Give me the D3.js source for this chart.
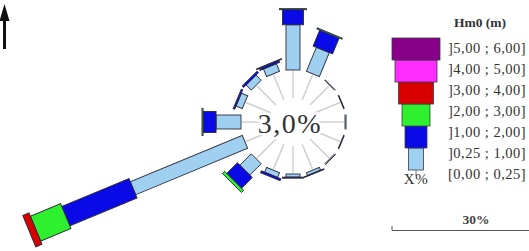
<!DOCTYPE html>
<html>
<head>
<meta charset="utf-8">
<script src="https://cdn.jsdelivr.net/npm/d3@7"></script>
<style>
  html, body { margin: 0; padding: 0; background: #fff; overflow: hidden; }
  text { font-family: "Liberation Serif", "DejaVu Serif", serif; }
</style>
</head>
<body>
<svg id="rose" width="529" height="251"></svg>
<script>
// directions, clockwise from north (16 sectors)
var directions = ['N','NNE','NE','ENE','E','ESE','SE','SSE','S','SSW','SW','WSW','W','WNW','NW','NNW'];

// frequency (%) of each Hm0 class per direction
var c025_1 = [8.7, 5.0, 0.1, 0.1, 0.2, 0.1, 0.2, 0.6, 0.6, 1.0, 3.1, 23.3, 4.8, 1.3, 1.4, 1.6];
var c1_2   = [2.9, 3.3, 0,   0,   0,   0,   0,   0.1, 0.2, 0.4, 2.9, 14.0, 2.5, 0.3, 0.4, 0.4];
var c2_3   = [0.2, 0.2, 0,   0,   0,   0,   0,   0,   0,   0,   0.6, 6.3,  0.2, 0,   0,   0.1];
var c3_4   = [0,   0,   0,   0,   0,   0,   0,   0,   0,   0,   0,   1.3,  0,   0,   0,   0];
var c4_5   = [0,   0,   0,   0,   0,   0,   0,   0,   0,   0,   0,   0,    0,   0,   0,   0];
var c5_6   = [0,   0,   0,   0,   0,   0,   0,   0,   0,   0,   0,   0,    0,   0,   0,   0];

var calm = 3.0;   // [0,00 ; 0,25]
var classLabels = [']0,25 ; 1,00]', ']1,00 ; 2,00]', ']2,00 ; 3,00]', ']3,00 ; 4,00]', ']4,00 ; 5,00]', ']5,00 ; 6,00]'];
var calmLabel = '[0,00 ; 0,25]';
var classColors = ['#9fd0f2', '#0a0ae6', '#2ef02e', '#d80000', '#ff2cff', '#880088'];
var scaleValue = 30;

var keys = ['c0','c1','c2','c3','c4','c5'];
var series = [c025_1, c1_2, c2_3, c3_4, c4_5, c5_6];
var rows = directions.map(function(d, i) {
    var row = {dir: d};
    keys.forEach(function(k, j) { row[k] = series[j][i]; });
    return row;
});

var svg = d3.select('#rose');

var cx = 293, cy = 122, r0 = 52;
var pxPer30 = 156;

var r = d3.scaleLinear().domain([0, scaleValue]).range([r0, r0 + pxPer30]);
var angle = d3.scaleLinear().domain([0, directions.length]).range([0, 360]);
var widths = d3.scaleOrdinal().domain(keys).range([14, 21, 27, 34, 41, 47]);
var color = d3.scaleOrdinal().domain(keys).range(classColors);

var stacked = d3.stack().keys(keys)(rows);

var rose = svg.append('g').attr('transform', 'translate(' + cx + ',' + cy + ')');

// light spokes
rose.selectAll('.spoke')
    .data(directions)
    .enter().append('line')
    .attr('class', 'spoke')
    .attr('transform', function(d, i) { return 'rotate(' + angle(i) + ')'; })
    .attr('y1', -24)
    .attr('y2', -r0 + 1)
    .attr('stroke', '#cfcfcf')
    .attr('stroke-width', 1.5);

// bars
stacked.forEach(function(layer) {
    var k = layer.key;
    rose.selectAll('.bar-' + k)
        .data(layer.filter(function(d, i) { return k === 'c0' || d[1] - d[0] > 0; }))
        .enter().append('rect')
        .attr('class', 'bar-' + k)
        .attr('transform', function(d) { return 'rotate(' + angle(directions.indexOf(d.data.dir)) + ')'; })
        .attr('x', -widths(k) / 2)
        .attr('width', widths(k))
        .attr('y', function(d) { return -r(d[1]); })
        .attr('height', function(d) { return Math.max(0.6, r(d[1]) - r(d[0])); })
        .attr('fill', color(k))
        .attr('stroke', '#2a2a3a')
        .attr('stroke-width', 0.9);
});

// calm text
rose.append('text')
    .attr('x', -3)
    .attr('y', 1)
    .attr('text-anchor', 'middle')
    .attr('dominant-baseline', 'central')
    .attr('font-size', 28)
    .attr('letter-spacing', 1.5)
    .attr('fill', '#333')
    .attr('stroke', '#fff')
    .attr('stroke-width', 5)
    .attr('paint-order', 'stroke')
    .text(d3.format('.1f')(calm).replace('.', ',') + '%');

// north arrow
var arrow = svg.append('g');
arrow.append('rect').attr('x', 3).attr('y', 18).attr('width', 3).attr('height', 31).attr('fill', '#111');
arrow.append('path').attr('d', 'M4.5,4 L9.5,21 L-0.5,21 Z').attr('fill', '#111');

// legend
var legend = svg.append('g');
var legendX = 416;
var rowY = d3.scaleBand().domain(keys.slice().reverse()).range([38, 170]);
var labelY = d3.scalePoint().domain(keys.slice().reverse().concat(['calm'])).range([48, 174]);

legend.append('text')
    .attr('x', 480).attr('y', 27)
    .attr('text-anchor', 'middle')
    .attr('font-size', 13.5)
    .attr('font-weight', 'bold')
    .attr('fill', '#333')
    .text('Hm0 (m)');

legend.selectAll('.lbox')
    .data(keys)
    .enter().append('rect')
    .attr('class', 'lbox')
    .attr('x', function(k) { return legendX - widths(k) / 2 - 0.5; })
    .attr('width', function(k) { return widths(k) + 1; })
    .attr('y', function(k) { return rowY(k); })
    .attr('height', rowY.bandwidth())
    .attr('fill', function(k) { return color(k); })
    .attr('stroke', '#3a3a4a')
    .attr('stroke-width', 0.8);

legend.selectAll('.llabel')
    .data(keys)
    .enter().append('text')
    .attr('class', 'llabel')
    .attr('x', 448)
    .attr('y', function(k) { return labelY(k); })
    .attr('dominant-baseline', 'central')
    .attr('font-size', 14.5)
    .attr('letter-spacing', 0.5)
    .attr('fill', '#333')
    .text(function(k, i) { return classLabels[i]; });

legend.append('line')
    .attr('x1', legendX).attr('x2', legendX)
    .attr('y1', 170).attr('y2', 176)
    .attr('stroke', '#777').attr('stroke-width', 1);

legend.append('text')
    .attr('x', legendX).attr('y', 179)
    .attr('text-anchor', 'middle')
    .attr('dominant-baseline', 'central')
    .attr('font-size', 15)
    .attr('letter-spacing', 0.5)
    .attr('fill', '#333')
    .text('X%');

legend.append('text')
    .attr('x', 448).attr('y', labelY('calm'))
    .attr('dominant-baseline', 'central')
    .attr('font-size', 14.5)
    .attr('letter-spacing', 0.5)
    .attr('fill', '#333')
    .text(calmLabel);

// scale bar
var scaleX0 = 392;
legend.append('text')
    .attr('x', 476).attr('y', 224)
    .attr('text-anchor', 'middle')
    .attr('font-size', 13.5)
    .attr('font-weight', 'bold')
    .attr('fill', '#444')
    .text(scaleValue + '%');

legend.append('path')
    .attr('d', 'M' + scaleX0 + ',226 V230.5 H' + (scaleX0 + r(scaleValue) - r(0)))
    .attr('fill', 'none')
    .attr('stroke', '#555')
    .attr('stroke-width', 1);
</script>
</body>
</html>
